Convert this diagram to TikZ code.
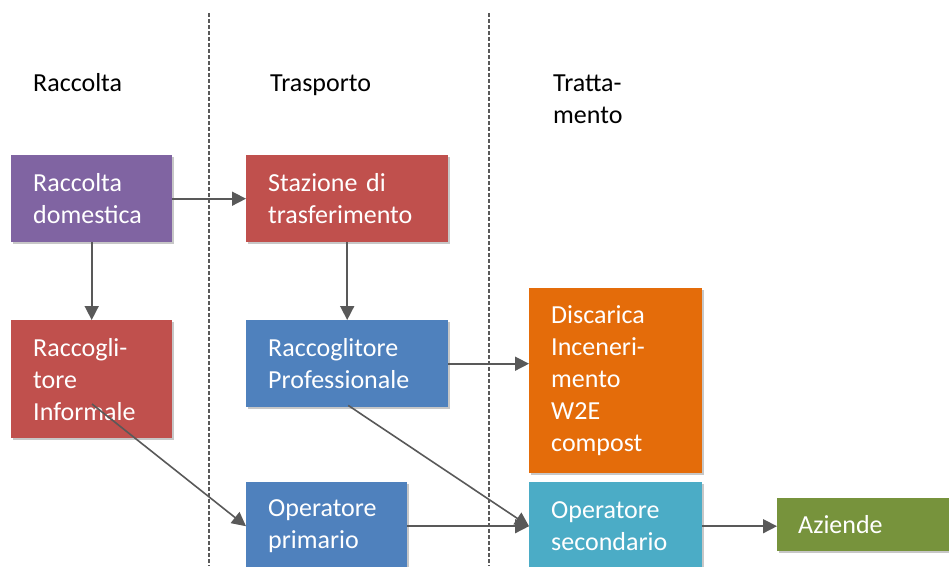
\documentclass[tikz,border=0pt]{standalone}
\usepackage{fontspec}
\setmainfont{Carlito}
\usetikzlibrary{arrows.meta,positioning,calc,shadows}
\definecolor{clrPurple}{HTML}{8064A2}
\definecolor{clrRed}{HTML}{C0504D}
\definecolor{clrBlue}{HTML}{4F81BD}
\definecolor{clrOrange}{HTML}{E46C0A}
\definecolor{clrTeal}{HTML}{4BACC6}
\definecolor{clrGreen}{HTML}{77933C}
\definecolor{clrLine}{HTML}{595959}
\tikzset{
  post/.style    = {-{Triangle[length=14pt,width=14pt]}, draw=clrLine, line width=1.6pt},
  box/.style     = {rectangle, anchor=north west, align=left, text=white,
                    inner xsep=22pt, inner ysep=0pt,
                    font=\fontsize{26}{32}\selectfont,
                    drop shadow={shadow xshift=2pt, shadow yshift=-2pt, opacity=0.22, fill=black}},
  head/.style    = {anchor=west, align=left, inner sep=0pt, text=black,
                    font=\fontsize{26}{32}\selectfont},
  divider/.style = {draw=clrLine, line width=1.3pt, dash pattern=on 4pt off 2pt}
}
\begin{document}
\begin{tikzpicture}[x=1pt,y=-1pt]
  \useasboundingbox (0,0) rectangle (949,566);
  \draw[divider] (209,13) -- (209,566);
  \draw[divider] (489,13) -- (489,566);

  \node[head] (hRac) at (33,83) {Raccolta};
  \node[head] (hTra) at (270,85.5) {Trasporto};
  \node[head] (hTrt) at (553,99) {Tratta-\\mento};

  \node[box, fill=clrPurple, text width=117pt, minimum height=87pt] (dom) at (11,155) {Raccolta\\domestica};
  \node[box, fill=clrRed, text width=158pt, minimum height=87pt] (staz) at (246,155) {Stazione di\\trasferimento};
  \node[box, fill=clrRed, text width=117pt, minimum height=118pt] (inf) at (11,320) {Raccogli-\\tore\\Informale};
  \node[box, fill=clrBlue, text width=158pt, minimum height=87pt] (prof) at (246,320) {Raccoglitore\\Professionale};
  \node[box, fill=clrOrange, text width=129pt, minimum height=185pt] (disc) at (529,288) {Discarica\\Inceneri-\\mento\\W2E\\compost};
  \node[box, fill=clrBlue, text width=117pt, minimum height=88pt] (prim) at (246,482) {Operatore\\primario};
  \node[box, fill=clrTeal, text width=129pt, minimum height=88pt] (sec) at (529,482) {Operatore\\secondario};
  \node[box, fill=clrGreen, text width=140pt, minimum height=53pt, inner xsep=21pt] (az) at (777,498) {Aziende};

  \coordinate (infS) at (92,404);
  \coordinate (profS) at ($(prof.south)+(1,-2)$);

  \draw[post] (dom) -- (staz);
  \draw[post] (dom) -- (inf);
  \draw[post] (staz) -- (prof);
  \draw[post] (prof.east) -- (prof.east -| disc.west);
  \draw[post] (infS) -- (prim.west);
  \draw[post] (profS) -- (sec.west);
  \draw[post] (prim) -- (sec);
  \draw[post] (sec.east) -- (sec.east -| az.west);
\end{tikzpicture}
\end{document}
